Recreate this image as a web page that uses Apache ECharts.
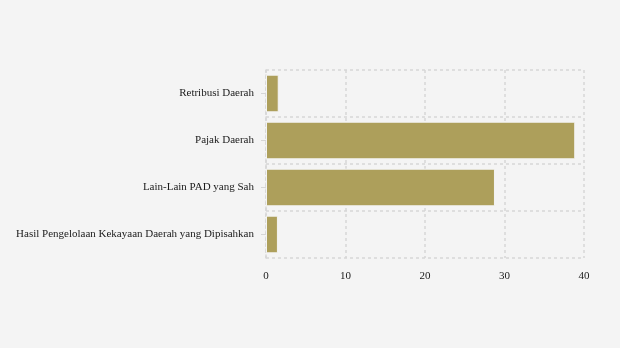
<!DOCTYPE html>
<html><head><meta charset="utf-8">
<script src="https://cdn.jsdelivr.net/npm/echarts@6/dist/echarts.min.js"></script>
<style>html,body{margin:0;padding:0;background:#f4f4f4}#c{width:620px;height:348px}</style>
</head><body><div id="c"></div>
<script>
var categories = ["Hasil Pengelolaan Kekayaan Daerah yang Dipisahkan", "Lain-Lain PAD yang Sah", "Pajak Daerah", "Retribusi Daerah"];
var values = [1.5, 28.8, 38.9, 1.6];
var xTicks = [0, 10, 20, 30, 40];
var chart = echarts.init(document.getElementById('c'), null, {renderer: 'canvas'});
var font = '"Liberation Serif", "Times New Roman", serif';
chart.setOption({
  backgroundColor: '#f4f4f4',
  animation: false,
  textStyle: {fontFamily: font},
  grid: {left: 266, right: 36, top: 70, bottom: 90, containLabel: false},
  xAxis: {
    type: 'value', min: xTicks[0], max: xTicks[xTicks.length-1], interval: 10,
    axisLine: {show: false}, axisTick: {show: false},
    axisLabel: {color: '#1a1a1a', fontSize: 11, fontFamily: font, margin: 13},
    splitLine: {show: true, lineStyle: {color: '#d6d6d6', type: [3, 3], width: 1.5}}
  },
  yAxis: {
    type: 'category', data: categories,
    axisLine: {show: true, lineStyle: {color: '#d6d6d6', type: [3, 3], width: 1.5}},
    axisTick: {show: true, alignWithLabel: true, length: 5, lineStyle: {color: '#d6d6d6'}},
    axisLabel: {color: '#1a1a1a', fontSize: 11, fontFamily: font, margin: 12},
    splitLine: {show: true, lineStyle: {color: '#d6d6d6', type: [3, 3], width: 1.5}}
  },
  series: [{
    type: 'bar', data: values, barCategoryGap: '20%',
    itemStyle: {color: '#ad9f5b', borderColor: '#f4f4f4', borderWidth: 1}
  }]
});
</script></body></html>
